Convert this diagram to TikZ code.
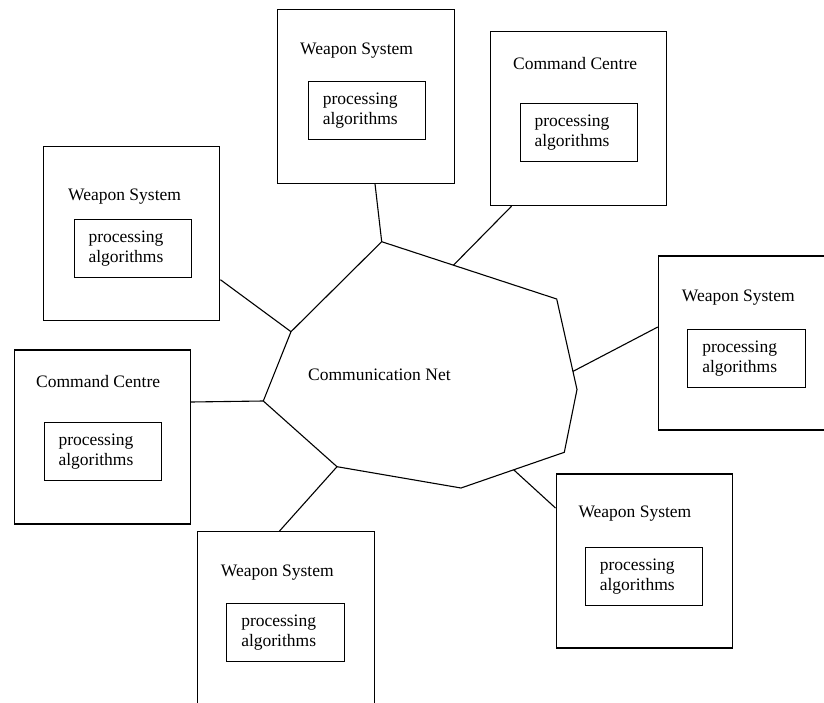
\documentclass[tikz,border=0pt]{standalone}
\usepackage{fontspec}
\setmainfont{Liberation Serif}
\usetikzlibrary{calc}

\begin{document}
\begin{tikzpicture}[x=10pt,y=10pt]
        \tikzstyle{every node}+=[inner sep=0pt, font=\fontsize{17.5}{20}\selectfont]
        \tikzstyle{unitbox}=[draw, line width=1.1pt, minimum width=176.5pt, minimum height=174pt]
        \tikzstyle{algbox}=[draw, line width=1.1pt, minimum width=117.5pt, minimum height=58pt, text width=88.5pt, align=left]
        \tikzstyle{link}=[line width=1.1pt]
        \useasboundingbox (0,0) rectangle (82.4,-70.3);
        % the net
        \coordinate (n1) at (38.17,-24.17);
        \coordinate (n2) at (55.67,-29.90);
        \coordinate (n3) at (57.70,-38.95);
        \coordinate (n4) at (56.43,-45.23);
        \coordinate (n5) at (46.10,-48.80);
        \coordinate (n6) at (33.70,-46.67);
        \coordinate (n7) at (26.33,-40.10);
        \coordinate (n8) at (29.10,-33.17);
        \draw [link] (n1) -- (n2) -- (n3) -- (n4) -- (n5) -- (n6) -- (n7) -- (n8) -- cycle;
        \node [anchor=base west] (net) at (30.8,-38.0) {Communication Net};
        % weapon system, top
        \node [unitbox] (ws1) at (36.60,-9.63) {};
        \node [anchor=base west] (ws1t) at (30.00,-5.43) {Weapon System};
        \node [algbox] (ws1a) at (36.71,-11.07) {processing\\algorithms};
        % command centre, top right
        \node [unitbox] (cc1) at (57.83,-11.87) {};
        \node [anchor=base west] (cc1t) at (51.30,-6.93) {Command Centre};
        \node [algbox] (cc1a) at (57.88,-13.23) {processing\\algorithms};
        % weapon system, left
        \node [unitbox] (ws2) at (13.16,-23.37) {};
        \node [anchor=base west] (ws2t) at (6.80,-20.10) {Weapon System};
        \node [algbox] (ws2a) at (13.28,-24.83) {processing\\algorithms};
        % command centre, left
        \node [unitbox] (cc2) at (10.23,-43.70) {};
        \node [anchor=base west] (cc2t) at (3.60,-38.77) {Command Centre};
        \node [algbox] (cc2a) at (10.28,-45.17) {processing\\algorithms};
        % weapon system, right
        \node [unitbox] (ws3) at (74.66,-34.30) {};
        \node [anchor=base west] (ws3t) at (68.17,-30.10) {Weapon System};
        \node [algbox] (ws3a) at (74.65,-35.83) {processing\\algorithms};
        % weapon system, bottom right
        \node [unitbox] (ws4) at (64.43,-56.10) {};
        \node [anchor=base west] (ws4t) at (57.83,-51.77) {Weapon System};
        \node [algbox] (ws4a) at (64.41,-57.63) {processing\\algorithms};
        % weapon system, bottom
        \node [unitbox] (ws5) at (28.60,-61.87) {};
        \node [anchor=base west] (ws5t) at (22.07,-57.60) {Weapon System};
        \node [algbox] (ws5a) at (28.55,-63.23) {processing\\algorithms};
        % links to the net
        \draw [link] ($(ws1.south)+(0.9,0)$) -- (n1);
        \draw [link] ($(cc1.south west)+(2.2,0)$) -- ($(n1)!0.41!(n2)$);
        \draw [link] ($(ws2.east)+(0,-4.6)$) -- (n8);
        \draw [link] ($(cc2.east)+(0,3.5)$) -- (n7);
        \draw [link] ($(ws3.west)+(0,1.6)$) -- ($(n2)!0.8!(n3)$);
        \draw [link] ($(ws4.west)+(0,5.3)$) -- ($(n4)!0.49!(n5)$);
        \draw [link] ($(ws5.north)+(-0.66,0)$) -- (n6);
\end{tikzpicture}
\end{document}
